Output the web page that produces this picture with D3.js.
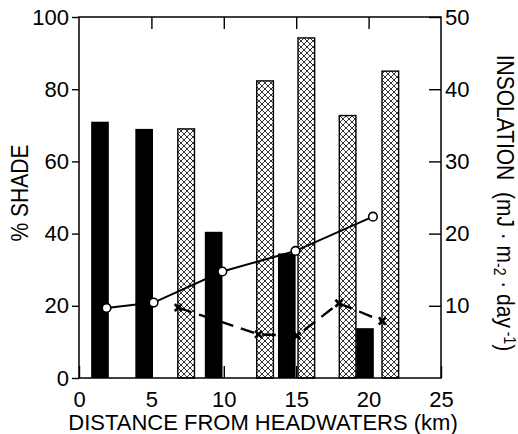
<!DOCTYPE html>
<html>
<head>
<meta charset="utf-8">
<script src="https://cdn.jsdelivr.net/npm/d3@7"></script>
<style>
    body { margin: 0; background: #fff; }
    text { font-family: "Liberation Sans", Arial, Helvetica, sans-serif; fill: #000; }
</style>
</head>
<body>
<div id="chart"></div>
<script>
// distance along the stream (km) and % shade, solid bars
var solidKm = [1.45, 4.5, 9.3, 14.35, 19.75];
var solidShade = [71, 69, 40.5, 34.5, 13.8];

// cross-hatched bars
var hatchKm = [7.4, 12.85, 15.7, 18.55, 21.5];
var hatchShade = [69, 82.3, 94.2, 72.7, 85];

// insolation (right axis), open circles + solid line
var circleKm = [1.9, 5.15, 9.9, 14.95, 20.3];
var circleInsol = [9.7, 10.45, 14.75, 17.6, 22.35];

// insolation (right axis), crosses + dashed line
var crossKm = [6.85, 12.4, 15.05, 17.95, 20.95];
var crossInsol = [9.75, 6.05, 5.85, 10.35, 7.9];

// tick labels
var xTicks = [0, 5, 10, 15, 20, 25];
var leftTicks = [0, 20, 40, 60, 80, 100];
var rightTicks = [10, 20, 30, 40, 50];

(function () {
    var W = 518, H = 434;
    var m = {left: 79, right: 77, top: 17, bottom: 56};
    var pw = W - m.left - m.right, ph = H - m.top - m.bottom;
    var SOLID_W = 1.22, HATCH_W = 1.15; // bar widths in km
    var HS = 6; // hatch cell size

    var svg = d3.select("#chart").append("svg")
        .attr("width", W)
        .attr("height", H);

    // crosshatch pattern
    var pat = svg.append("defs").append("pattern")
        .attr("id", "xhatch")
        .attr("patternUnits", "userSpaceOnUse")
        .attr("width", HS)
        .attr("height", HS);
    pat.append("rect").attr("width", HS).attr("height", HS).attr("fill", "#fff");
    pat.append("path")
        .attr("d", "M0,0L" + HS + "," + HS + "M" + HS + ",0L0," + HS)
        .attr("stroke", "#000")
        .attr("stroke-width", 0.8);

    var g = svg.append("g").attr("transform", "translate(" + m.left + "," + m.top + ")");

    var x = d3.scaleLinear().domain([0, 25]).range([0, pw]);
    var yL = d3.scaleLinear().domain([0, 100]).range([ph, 0]);
    var yR = d3.scaleLinear().domain([0, 50]).range([ph, 0]);

    var _zip = function (a, b) {
        return a.map(function (d, i) { return [d, b[i]]; });
    };

    // bars
    g.selectAll(".solid").data(_zip(solidKm, solidShade)).enter().append("rect")
        .attr("x", function (d) { return x(d[0] - SOLID_W / 2); })
        .attr("width", x(SOLID_W) - x(0))
        .attr("y", function (d) { return yL(d[1]); })
        .attr("height", function (d) { return ph - yL(d[1]); })
        .attr("fill", "#000");

    g.selectAll(".hatch").data(_zip(hatchKm, hatchShade)).enter().append("rect")
        .attr("x", function (d) { return x(d[0] - HATCH_W / 2); })
        .attr("width", x(HATCH_W) - x(0))
        .attr("y", function (d) { return yL(d[1]); })
        .attr("height", function (d) { return ph - yL(d[1]); })
        .attr("fill", "url(#xhatch)")
        .attr("stroke", "#000")
        .attr("stroke-width", 1.4);

    // lines
    var line = d3.line()
        .x(function (d) { return x(d[0]); })
        .y(function (d) { return yR(d[1]); });

    var crosses = _zip(crossKm, crossInsol);
    g.append("path").datum(crosses)
        .attr("d", line)
        .attr("fill", "none")
        .attr("stroke", "#000")
        .attr("stroke-width", 2.4)
        .attr("stroke-dasharray", "14,8");
    g.selectAll(".cross").data(crosses).enter().append("path")
        .attr("transform", function (d) { return "translate(" + x(d[0]) + "," + yR(d[1]) + ")"; })
        .attr("d", d3.symbol(d3.symbolX, 34))
        .attr("fill", "none")
        .attr("stroke", "#000")
        .attr("stroke-width", 2.6);

    var circles = _zip(circleKm, circleInsol);
    g.append("path").datum(circles)
        .attr("d", line)
        .attr("fill", "none")
        .attr("stroke", "#000")
        .attr("stroke-width", 2);
    g.selectAll(".circ").data(circles).enter().append("circle")
        .attr("cx", function (d) { return x(d[0]); })
        .attr("cy", function (d) { return yR(d[1]); })
        .attr("r", 4.3)
        .attr("fill", "#fff")
        .attr("stroke", "#000")
        .attr("stroke-width", 1.6);

    // axes
    var _style = function (sel) {
        sel.select(".domain").remove();
        sel.selectAll("line").attr("stroke", "#000").attr("stroke-width", 1.4);
        sel.selectAll("text").style("font-size", "22px").attr("fill", "#000");
    };

    g.append("g").attr("transform", "translate(0," + ph + ")")
        .call(d3.axisBottom(x).tickValues(xTicks).tickSizeInner(-12).tickPadding(13).tickFormat(d3.format("d")))
        .call(_style);
    g.append("g")
        .call(d3.axisTop(x).tickValues(xTicks.slice(1, -1)).tickSizeInner(-12).tickFormat(""))
        .call(_style);
    g.append("g")
        .call(d3.axisLeft(yL).tickValues(leftTicks).tickSize(7).tickPadding(3).tickFormat(d3.format("d")))
        .call(_style);
    g.append("g").attr("transform", "translate(" + pw + ",0)")
        .call(d3.axisRight(yR).tickValues(rightTicks).tickSizeInner(-12).tickPadding(4).tickFormat(d3.format("d")))
        .call(_style);

    // frame
    g.append("rect")
        .attr("width", pw)
        .attr("height", ph)
        .attr("fill", "none")
        .attr("stroke", "#000")
        .attr("stroke-width", 1.5);

    // axis titles
    svg.append("text")
        .attr("x", 263)
        .attr("y", 430)
        .attr("text-anchor", "middle")
        .style("font-size", "22px")
        .text("DISTANCE FROM HEADWATERS (km)");

    svg.append("text")
        .attr("transform", "translate(28,193) rotate(-90) scale(1,1.15)")
        .attr("text-anchor", "middle")
        .style("font-size", "21px")
        .text("% SHADE");

    var rt = svg.append("text")
        .attr("transform", "translate(497,203) rotate(90) scale(1,1.12)")
        .attr("text-anchor", "middle")
        .style("font-size", "21px");
    rt.append("tspan").text("INSOLATION\u00a0\u00a0(mJ\u00a0\u00b7\u00a0m");
    rt.append("tspan").attr("dy", 3).style("font-size", "14px").text("-2");
    rt.append("tspan").attr("dy", -3).text("\u00a0\u00b7\u00a0day");
    rt.append("tspan").attr("dy", -6).style("font-size", "14px").text("\u00a0-1");
    rt.append("tspan").attr("dy", 6).text(")");
})();
</script>
</body>
</html>
